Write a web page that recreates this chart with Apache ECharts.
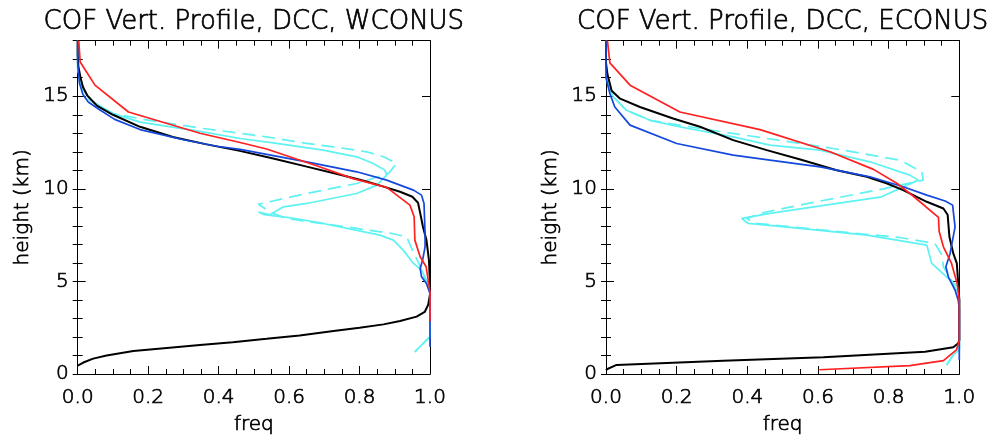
<!DOCTYPE html>
<html>
<head>
<meta charset="utf-8">
<script src="https://cdn.jsdelivr.net/npm/echarts@6/dist/echarts.min.js"></script>
<style>
html, body { margin: 0; padding: 0; background: #fff; }
#chart { width: 995px; height: 441px; }
</style>
</head>
<body>
<div id="chart"></div>
<script>
// Cloud occurrence frequency profiles: each point is [freq, height (km)], listed top to bottom.

// ---- WCONUS ----
const wBlack = [[0,18],[0,17.2],[0.002,16.6],[0.008,16.0],[0.015,15.5],[0.027,15.05],[0.054,14.5],[0.10,14.0],[0.177,13.35],[0.27,12.8],[0.366,12.4],[0.46,12.05],[0.555,11.64],[0.65,11.2],[0.745,10.76],[0.82,10.4],[0.868,10.12],[0.915,9.84],[0.95,9.57],[0.966,9.25],[0.972,8.7],[0.98,7.95],[0.99,7.23],[0.997,6.15],[1.0,4.9],[1.0,4.3],[0.995,3.75],[0.985,3.35],[0.962,3.1],[0.915,2.86],[0.868,2.68],[0.80,2.5],[0.726,2.32],[0.63,2.08],[0.536,1.9],[0.44,1.72],[0.347,1.56],[0.253,1.4],[0.158,1.24],[0.082,1.0],[0.044,0.83],[0.016,0.62],[0,0.45]];
const wRed = [[0.003,18],[0.007,16.85],[0.049,15.6],[0.144,14.15],[0.347,13.0],[0.461,12.5],[0.536,12.15],[0.678,11.25],[0.782,10.55],[0.877,10.08],[0.943,9.12],[0.955,8.49],[0.957,7.23],[0.972,6.33],[0.989,5.79],[0.998,4.71],[1.0,4.4],[1.0,2.85]];
const wBlue = [[0,18],[0,16.8],[0.005,15.7],[0.015,15.1],[0.03,14.69],[0.06,14.3],[0.105,13.75],[0.177,13.2],[0.30,12.65],[0.395,12.3],[0.461,12.13],[0.65,11.46],[0.792,10.92],[0.877,10.47],[0.953,9.93],[0.976,9.66],[0.983,9.21],[0.986,7.59],[0.986,6.87],[0.979,6.15],[0.972,5.7],[0.976,5.25],[0.99,4.89],[1.0,4.35],[1.0,1.47]];
const wCyan = [[0,18],[0,16.5],[0.011,15.5],[0.035,14.78],[0.101,14.06],[0.177,13.6],[0.347,13.1],[0.461,12.72],[0.555,12.48],[0.697,12.09],[0.792,11.73],[0.839,11.37],[0.872,11.01],[0.877,10.74],[0.849,10.2],[0.792,9.75],[0.65,9.21],[0.584,9.03],[0.546,8.6],[0.513,8.75],[0.53,8.6],[0.6,8.45],[0.697,8.13],[0.858,7.5],[0.896,7.23],[0.924,6.69],[0.953,5.97],[0.976,5.61],[0.99,5.07],[1.0,4.4],[1.0,2.0],[0.99,1.83],[0.957,1.2]];
const wCyanDash = [[0,18],[0,16.5],[0.011,15.5],[0.035,14.78],[0.101,14.06],[0.191,13.74],[0.357,13.26],[0.536,12.81],[0.65,12.45],[0.726,12.27],[0.82,12.0],[0.868,11.73],[0.905,11.37],[0.882,10.83],[0.792,10.29],[0.65,9.75],[0.513,9.17],[0.55,8.7],[0.593,8.4],[0.745,7.99],[0.891,7.59],[0.934,7.41],[0.948,6.78],[0.97,5.9],[1.0,4.4],[1.0,2.0],[0.99,1.83],[0.957,1.2]];

// ---- ECONUS ----
const eBlack = [[0,18],[0,16.8],[0.004,16.2],[0.016,15.3],[0.04,14.87],[0.096,14.42],[0.19,13.8],[0.266,13.35],[0.36,12.63],[0.455,12.09],[0.55,11.58],[0.653,11.0],[0.738,10.65],[0.794,10.3],[0.841,9.93],[0.908,9.3],[0.955,8.94],[0.967,8.6],[0.972,7.41],[0.983,6.51],[0.993,5.97],[0.997,4.89],[1.0,4.0],[1.0,1.83],[0.997,1.66],[0.983,1.44],[0.903,1.2],[0.615,0.9],[0.332,0.72],[0.03,0.49],[0.004,0.27],[0,0.2]];
const eRed = [[0.004,18],[0.011,16.8],[0.068,15.6],[0.209,14.15],[0.436,13.2],[0.634,12.0],[0.757,11.05],[0.823,10.3],[0.87,9.6],[0.941,8.46],[0.943,7.7],[0.955,6.87],[0.978,5.97],[0.994,4.89],[1.0,4.0],[1.0,1.83],[0.992,1.3],[0.955,0.72],[0.86,0.45],[0.604,0.23]];
const eBlue = [[0,18],[0,16.0],[0.011,15.14],[0.025,14.42],[0.068,13.44],[0.2,12.45],[0.36,11.82],[0.464,11.55],[0.606,11.19],[0.747,10.65],[0.841,10.11],[0.908,9.66],[0.96,9.34],[0.981,9.12],[0.988,7.95],[0.974,6.51],[0.962,5.79],[0.969,5.25],[0.988,4.53],[0.997,3.99],[1.0,3.5],[1.0,0.76]];
const eCyan = [[0,18],[0,16.3],[0.008,15.5],[0.021,14.96],[0.058,14.24],[0.125,13.7],[0.2,13.38],[0.36,12.81],[0.464,12.36],[0.606,12.09],[0.747,11.46],[0.86,10.74],[0.884,10.47],[0.78,9.57],[0.464,8.67],[0.384,8.4],[0.403,8.13],[0.55,7.86],[0.738,7.5],[0.908,6.96],[0.922,5.97],[0.964,5.25],[0.997,4.71],[1.0,4.0],[1.0,1.3],[0.983,1.03],[0.964,0.49]];
const eCyanDash = [[0,18],[0,16.3],[0.008,15.5],[0.021,14.96],[0.058,14.24],[0.125,13.7],[0.266,13.26],[0.455,12.72],[0.643,12.18],[0.832,11.55],[0.894,10.92],[0.898,10.47],[0.785,10.0],[0.596,9.3],[0.455,8.76],[0.398,8.4],[0.42,8.15],[0.6,7.8],[0.832,7.37],[0.931,7.05],[0.951,6.42],[0.955,5.79],[0.98,5.0],[1.0,4.2],[1.0,1.3],[0.983,1.03],[0.964,0.49]];

const titles = ['COF Vert. Profile, DCC, WCONUS', 'COF Vert. Profile, DCC, ECONUS'];
const xTicks = [0, 0.2, 0.4, 0.6, 0.8, 1.0];
const yTicks = [0, 5, 10, 15];
const xName = 'freq';
const yName = 'height (km)';

const FONT = 'DejaVu Sans';
const WEIGHT = 200;
const INK = '#000';
const COLORS = { black: '#000000', red: '#ff2020', blue: '#1448dc', cyan: '#5ef2f2' };

const panels = [
  { left: 77.7, width: 352.3, lines: { cyanDash: wCyanDash, cyan: wCyan, black: wBlack, blue: wBlue, red: wRed } },
  { left: 606, width: 353.3, lines: { cyanDash: eCyanDash, cyan: eCyan, black: eBlack, blue: eBlue, red: eRed } }
];
const TOP = 40.7, HEIGHT = 333.3;

const grid = [], xAxis = [], yAxis = [], series = [], graphic = [];

panels.forEach((p, i) => {
  grid.push({ left: p.left, top: TOP, width: p.width, height: HEIGHT, outerBoundsMode: 'none' });

  const tickStyle = { color: INK, width: 1 };
  // thin glyphs with a light outline so the strokes stay dark
  const textStyle = { fontFamily: FONT, fontWeight: WEIGHT, fontSize: 20, color: INK,
    textBorderColor: INK, textBorderWidth: 0.7 };
  const xBase = {
    gridIndex: i, type: 'value', min: xTicks[0], max: xTicks[xTicks.length - 1],
    interval: xTicks[1] - xTicks[0],
    axisLine: { show: true, onZero: false, lineStyle: { color: INK, width: 1 } },
    axisTick: { show: true, inside: true, length: 8, lineStyle: tickStyle },
    minorTick: { show: true, splitNumber: 4, length: 5, lineStyle: tickStyle },
    splitLine: { show: false }, minorSplitLine: { show: false }
  };
  xAxis.push(Object.assign({}, xBase, {
    position: 'bottom',
    name: xName, nameLocation: 'middle', nameGap: 41,
    nameTextStyle: textStyle,
    axisLabel: Object.assign({ show: true, margin: 14, formatter: v => v.toFixed(1) }, textStyle)
  }));
  xAxis.push(Object.assign({}, xBase, { position: 'top', axisLabel: { show: false } }));

  const yBase = {
    gridIndex: i, type: 'value', min: yTicks[0], max: 18,
    splitLine: { show: false }
  };
  // major ticks + labels on the left
  yAxis.push(Object.assign({}, yBase, {
    position: 'left', interval: yTicks[1] - yTicks[0],
    name: yName, nameLocation: 'middle', nameGap: 45,
    nameTextStyle: textStyle,
    axisLine: { show: true, onZero: false, lineStyle: { color: INK, width: 1 } },
    axisTick: { show: true, inside: true, length: 8, lineStyle: tickStyle },
    axisLabel: Object.assign({ show: true, margin: 9,
      formatter: v => (yTicks.indexOf(v) >= 0 ? String(v) : '') }, textStyle)
  }));
  // minor ticks on the left
  yAxis.push(Object.assign({}, yBase, {
    position: 'left', interval: 1,
    axisLine: { show: false },
    axisTick: { show: true, inside: true, length: 5, lineStyle: tickStyle },
    axisLabel: { show: false }
  }));
  // major ticks on the right
  yAxis.push(Object.assign({}, yBase, {
    position: 'right', interval: yTicks[1] - yTicks[0],
    axisLine: { show: true, onZero: false, lineStyle: { color: INK, width: 1 } },
    axisTick: { show: true, inside: true, length: 8, lineStyle: tickStyle },
    axisLabel: { show: false }
  }));
  // minor ticks on the right
  yAxis.push(Object.assign({}, yBase, {
    position: 'right', interval: 1,
    axisLine: { show: false },
    axisTick: { show: true, inside: true, length: 5, lineStyle: tickStyle },
    axisLabel: { show: false }
  }));

  Object.keys(p.lines).forEach(key => {
    const dashed = key === 'cyanDash';
    const colorKey = dashed ? 'cyan' : key;
    series.push({
      type: 'line', xAxisIndex: 2 * i, yAxisIndex: 4 * i,
      data: p.lines[key], showSymbol: false, symbol: 'none', clip: false,
      animation: false, silent: true,
      lineStyle: { color: COLORS[colorKey], width: key === 'black' ? 2 : 1.7,
        type: dashed ? [13, 7] : 'solid' }
    });
  });

  graphic.push({
    type: 'text', x: p.left + p.width / 2, y: 22,
    style: { text: titles[i], fill: INK, stroke: INK, lineWidth: 0.7,
      font: WEIGHT + ' 26px "' + FONT + '"',
      align: 'center', verticalAlign: 'middle' }
  });
});

const chart = echarts.init(document.getElementById('chart'), null, { renderer: 'canvas' });
chart.setOption({
  animation: false,
  backgroundColor: '#fff',
  grid, xAxis, yAxis, series, graphic
});
</script>
</body>
</html>
